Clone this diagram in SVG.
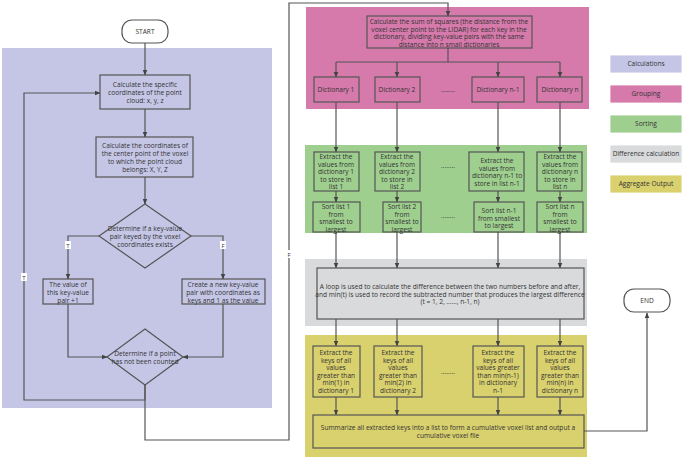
<svg xmlns="http://www.w3.org/2000/svg" width="685" height="459" viewBox="0 0 685 459">
<defs>
<marker id="a" viewBox="0 0 10 10" refX="9" refY="5" markerWidth="5" markerHeight="5" orient="auto"><path d="M0,1 L10,5 L0,9 z" fill="#444"/></marker>
<style>
text{font-family:"Open Sans","Liberation Sans",sans-serif;font-size:6.6px;fill:#333;text-anchor:middle}
.b{fill:none;stroke:#555;stroke-width:1.2}
.c{fill:none;stroke:#555;stroke-width:1.2;marker-end:url(#a)}
.t{fill:#fff;stroke:#555;stroke-width:1.2}
.l{stroke:#fff;stroke-width:0.8}
</style>
</defs>
<rect width="685" height="459" fill="#fff"/>
<rect x="2" y="48" width="270" height="360" fill="#c5c6e6"/>
<rect x="306" y="7" width="283" height="102" fill="#d57aab"/>
<rect x="305" y="145" width="282" height="88" fill="#9fcf8f"/>
<rect x="305" y="259" width="282" height="67" fill="#d9dadb"/>
<rect x="305" y="335" width="282" height="122" fill="#d9d06e"/>
<g id="legend">
<rect class="l" x="610" y="55" width="72" height="18" fill="#c5c6e6"/><text x="646" y="66">Calculations</text>
<rect class="l" x="610" y="85" width="72" height="18" fill="#d57aab"/><text x="646" y="96">Grouping</text>
<rect class="l" x="610" y="115" width="72" height="18" fill="#9fcf8f"/><text x="646" y="126">Sorting</text>
<rect class="l" x="610" y="145" width="72" height="18" fill="#d9dadb"/><text x="646" y="156">Difference calculation</text>
<rect class="l" x="610" y="175" width="72" height="18" fill="#d9d06e"/><text x="646" y="186">Aggregate Output</text>
</g>
<g id="connectors">
<path class="c" d="M145,43 V75"/>
<path class="c" d="M145,109 V137"/>
<path class="c" d="M145,177 V204"/>
<path class="c" d="M99,236 H68 V279"/>
<path class="c" d="M191,236 H223 V279"/>
<path class="c" d="M68,304 V357 H107"/>
<path class="c" d="M223,304 V357 H183"/>
<path class="c" d="M145,385 V400 H24 V93 H100"/>
<path class="c" d="M145,385 V440 H289 V3 H448 V16"/>
<path class="b" d="M448,48 V62 M336,62 H560"/>
<path class="c" d="M336,62 V77"/><path class="c" d="M397,62 V77"/><path class="c" d="M498,62 V77"/><path class="c" d="M560,62 V77"/>
<path class="c" d="M336,102 V152"/><path class="c" d="M397,102 V152"/><path class="c" d="M498,102 V152"/><path class="c" d="M560,102 V152"/>
<path class="c" d="M336,191 V202"/><path class="c" d="M397,191 V202"/><path class="c" d="M498,191 V202"/><path class="c" d="M560,191 V202"/>
<path class="c" d="M336,232 V268"/><path class="c" d="M397,232 V268"/><path class="c" d="M498,232 V268"/><path class="c" d="M560,232 V268"/>
<path class="c" d="M336,319 V346"/><path class="c" d="M397,319 V346"/><path class="c" d="M498,319 V346"/><path class="c" d="M560,319 V346"/>
<path class="c" d="M336,397 V415"/><path class="c" d="M397,397 V415"/><path class="c" d="M498,397 V415"/><path class="c" d="M560,397 V415"/>
<path class="c" d="M584,431 H647 V313"/>
<rect x="65" y="241" width="6" height="8" fill="#fff"/><text x="68" y="247.5" style="font-size:6px">T</text>
<rect x="220" y="241" width="6" height="8" fill="#fff"/><text x="223" y="247.5" style="font-size:6px">F</text>
<rect x="21" y="273" width="6" height="8" fill="#fff"/><text x="24" y="279.5" style="font-size:6px">T</text>
<rect x="286" y="250" width="6" height="8" fill="#fff"/><text x="289" y="256.5" style="font-size:6px">F</text>
</g>
<g id="start"><rect class="t" x="122" y="20" width="46" height="23" rx="10"/><text x="145" y="34">START</text></g>
<g id="n1"><rect class="b" x="100" y="75" width="90" height="34"/><text x="145" y="87">Calculate the specific<tspan x="145" dy="8">coordinates of the point</tspan><tspan x="145" dy="8">cloud: x, y, z</tspan></text></g>
<g id="n2"><rect class="b" x="96" y="137" width="97" height="40"/><text x="145" y="148">Calculate the coordinates of<tspan x="145" dy="8">the center point of the voxel</tspan><tspan x="145" dy="8">to which the point cloud</tspan><tspan x="145" dy="8">belongs: X, Y, Z</tspan></text></g>
<g id="d1"><path class="b" d="M145,204 L191,236 L145,268 L99,236 Z"/><text x="145" y="231">Determine if a key-value<tspan x="145" dy="8">pair keyed by the voxel</tspan><tspan x="145" dy="8">coordinates exists</tspan></text></g>
<g id="n3"><rect class="b" x="43" y="279" width="50" height="25"/><text x="68" y="287">The value of<tspan x="68" dy="8">this key-value</tspan><tspan x="68" dy="8">pair +1</tspan></text></g>
<g id="n4"><rect class="b" x="182" y="279" width="83" height="25"/><text x="223" y="287">Create a new key-value<tspan x="223" dy="8">pair with coordinates as</tspan><tspan x="223" dy="8">keys and 1 as the value</tspan></text></g>
<g id="d2"><path class="b" d="M145,329 L183,357 L145,385 L107,357 Z"/><text x="145" y="356">Determine if a point<tspan x="145" dy="8">has not been counted</tspan></text></g>
<g id="g1"><rect class="b" x="367" y="16" width="165" height="32"/><text x="449" y="24">Calculate the sum of squares (the distance from the<tspan x="449" dy="7.5">voxel center point to the LIDAR) for each key in the</tspan><tspan x="449" dy="7.5">dictionary, dividing key-value pairs with the same</tspan><tspan x="449" dy="7.5">distance into n small dictionaries</tspan></text></g>
<g id="dict1"><rect class="b" x="314" y="77" width="45" height="25"/><text x="336" y="92">Dictionary 1</text></g>
<g id="dict2"><rect class="b" x="375" y="77" width="45" height="25"/><text x="397" y="92">Dictionary 2</text></g>
<text x="448" y="92">........</text>
<g id="dict3"><rect class="b" x="472" y="77" width="52" height="25"/><text x="498" y="92">Dictionary n-1</text></g>
<g id="dict4"><rect class="b" x="537" y="77" width="45" height="25"/><text x="560" y="92">Dictionary n</text></g>
<g id="e1"><rect class="b" x="314" y="152" width="45" height="39"/><text x="336" y="159">Extract the<tspan x="336" dy="7.5">values from</tspan><tspan x="336" dy="7.5">dictionary 1</tspan><tspan x="336" dy="7.5">to store in</tspan><tspan x="336" dy="7.5">list 1</tspan></text></g>
<g id="e2"><rect class="b" x="375" y="152" width="45" height="39"/><text x="397" y="159">Extract the<tspan x="397" dy="7.5">values from</tspan><tspan x="397" dy="7.5">dictionary 2</tspan><tspan x="397" dy="7.5">to store in</tspan><tspan x="397" dy="7.5">list 2</tspan></text></g>
<text x="448" y="168">........</text>
<g id="e3"><rect class="b" x="469" y="152" width="55" height="39"/><text x="497" y="163">Extract the<tspan x="497" dy="7.5">values from</tspan><tspan x="497" dy="7.5">dictionary n-1 to</tspan><tspan x="497" dy="7.5">store in list n-1</tspan></text></g>
<g id="e4"><rect class="b" x="537" y="152" width="45" height="39"/><text x="560" y="159">Extract the<tspan x="560" dy="7.5">values from</tspan><tspan x="560" dy="7.5">dictionary n</tspan><tspan x="560" dy="7.5">to store in</tspan><tspan x="560" dy="7.5">list n</tspan></text></g>
<g id="s1"><rect class="b" x="313" y="202" width="47" height="30"/><text x="336" y="209">Sort list 1<tspan x="336" dy="7.5">from</tspan><tspan x="336" dy="7.5">smallest to</tspan><tspan x="336" dy="7.5">largest</tspan></text></g>
<g id="s2"><rect class="b" x="383" y="202" width="38" height="30"/><text x="402" y="209">Sort list 2<tspan x="402" dy="7.5">from</tspan><tspan x="402" dy="7.5">smallest to</tspan><tspan x="402" dy="7.5">largest</tspan></text></g>
<text x="448" y="218">........</text>
<g id="s3"><rect class="b" x="474" y="202" width="50" height="30"/><text x="499" y="213">Sort list n-1<tspan x="499" dy="7.5">from smallest</tspan><tspan x="499" dy="7.5">to largest</tspan></text></g>
<g id="s4"><rect class="b" x="537" y="202" width="46" height="30"/><text x="560" y="209">Sort list n<tspan x="560" dy="7.5">from</tspan><tspan x="560" dy="7.5">smallest to</tspan><tspan x="560" dy="7.5">largest</tspan></text></g>
<g id="diff"><rect class="b" x="317" y="268" width="267" height="51"/><text x="450" y="289">A loop is used to calculate the difference between the two numbers before and after,<tspan x="450" dy="7.5">and min(t) is used to record the subtracted number that produces the largest difference</tspan><tspan x="450" dy="7.5">(t = 1, 2, ......, n-1, n)</tspan></text></g>
<g id="k1"><rect class="b" x="313" y="346" width="47" height="51"/><text x="336" y="355">Extract the<tspan x="336" dy="7.5">keys of all</tspan><tspan x="336" dy="7.5">values</tspan><tspan x="336" dy="7.5">greater than</tspan><tspan x="336" dy="7.5">min(1) in</tspan><tspan x="336" dy="7.5">dictionary 1</tspan></text></g>
<g id="k2"><rect class="b" x="374" y="346" width="48" height="51"/><text x="398" y="355">Extract the<tspan x="398" dy="7.5">keys of all</tspan><tspan x="398" dy="7.5">values</tspan><tspan x="398" dy="7.5">greater than</tspan><tspan x="398" dy="7.5">min(2) in</tspan><tspan x="398" dy="7.5">dictionary 2</tspan></text></g>
<text x="448" y="374">........</text>
<g id="k3"><rect class="b" x="473" y="346" width="51" height="51"/><text x="498" y="355">Extract the<tspan x="498" dy="7.5">keys of all</tspan><tspan x="498" dy="7.5">values greater</tspan><tspan x="498" dy="7.5">than min(n-1)</tspan><tspan x="498" dy="7.5">in dictionary</tspan><tspan x="498" dy="7.5">n-1</tspan></text></g>
<g id="k4"><rect class="b" x="537" y="346" width="46" height="51"/><text x="560" y="355">Extract the<tspan x="560" dy="7.5">keys of all</tspan><tspan x="560" dy="7.5">values</tspan><tspan x="560" dy="7.5">greater than</tspan><tspan x="560" dy="7.5">min(n) in</tspan><tspan x="560" dy="7.5">dictionary n</tspan></text></g>
<g id="sum"><rect class="b" x="313" y="415" width="271" height="33"/><text x="448" y="430">Summarize all extracted keys into a list to form a cumulative voxel list and output a<tspan x="448" dy="7.5">cumulative voxel file</tspan></text></g>
<g id="end"><rect class="t" x="624" y="289" width="46" height="23" rx="10"/><text x="647" y="303">END</text></g>
</svg>
